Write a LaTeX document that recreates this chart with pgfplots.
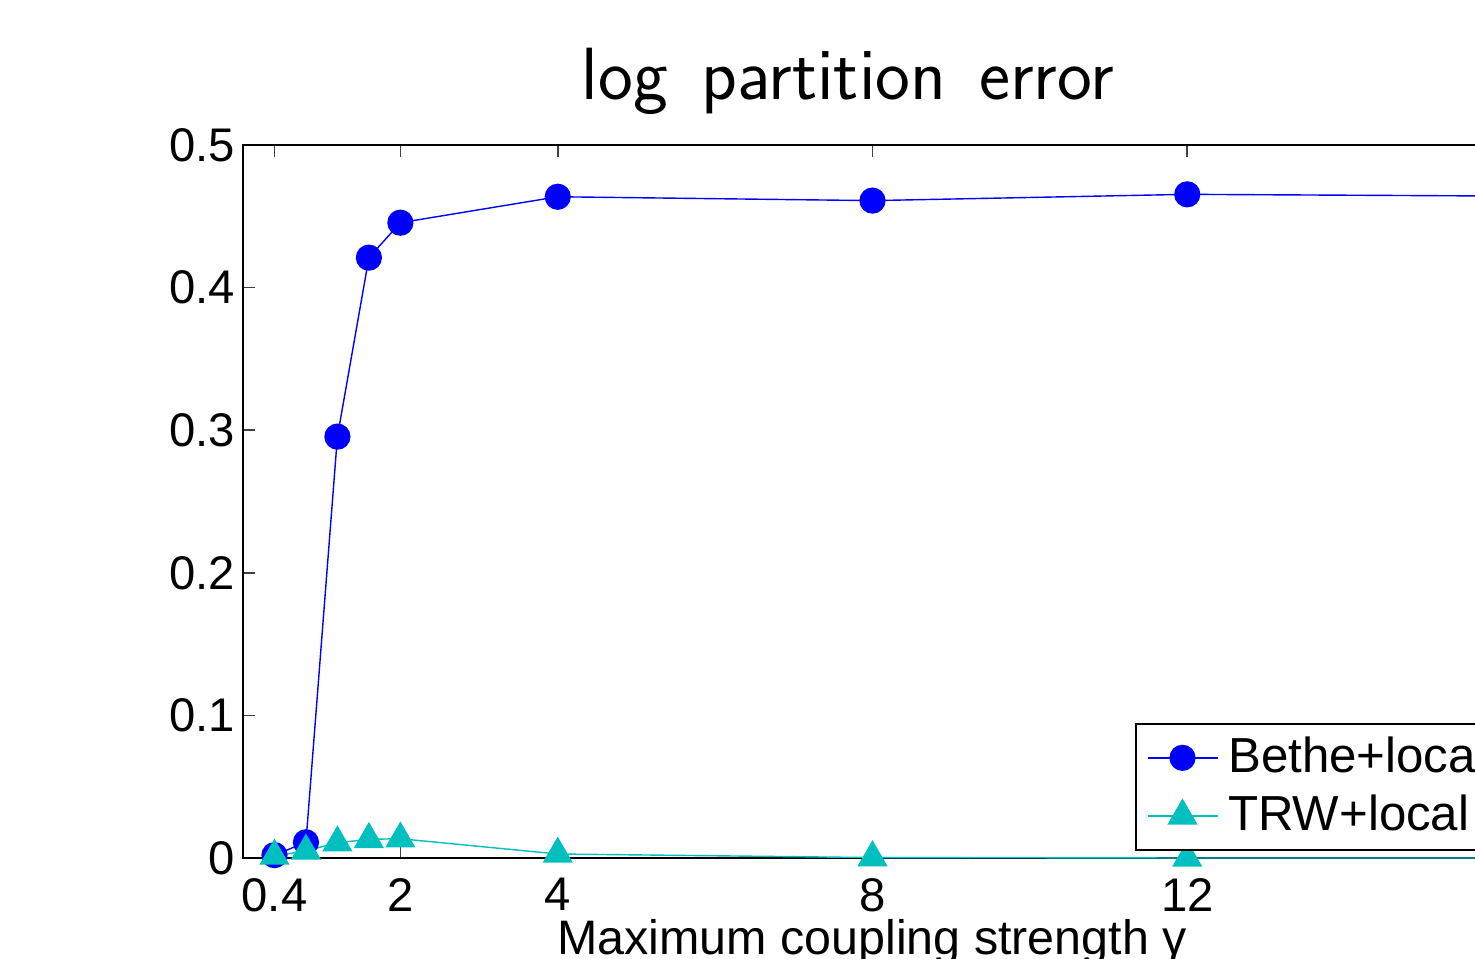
\documentclass[border=0pt]{standalone}
\usepackage{fontspec}
\setmainfont{Liberation Sans}
\usepackage{pgfplots}
\pgfplotsset{compat=1.18}
\definecolor{betheblue}{RGB}{0,0,255}
\definecolor{trwcyan}{RGB}{0,191,191}

\begin{document}
\begin{tikzpicture}
\clip (0pt,0pt) rectangle (368.75pt,239.75pt);
\begin{axis}[
  at={(60.75pt,25.25pt)}, anchor=south west,
  scale only axis, width=314.75pt, height=178.25pt,
  xmin=0, xmax=16, ymin=0, ymax=0.5,
  xtick={0.4,2,4,8,12,16},
  ytick={0,0.1,0.2,0.3,0.4,0.5},
  tick align=inside,
  major tick length=3pt,
  tick style={black!75, line width=0.4pt},
  axis line style={line width=0.5pt},
  ticklabel style={font=\fontsize{11.8}{13}\selectfont},
  /pgf/number format/assume math mode=true,
  /pgf/number format/fixed,
  xticklabel style={yshift=-1.6pt},
  yticklabel style={xshift=1.5pt},
  clip=false,
  legend style={at={(rel axis cs:0.7085,0.1893)}, anchor=north west,
    draw=black, line width=0.4pt, fill=white,
    inner xsep=2.75pt, inner ysep=1.25pt,
    font=\fontsize{12.3}{13}\selectfont, row sep=0pt,
    nodes={text height=8.5pt, text depth=1pt, inner ysep=2.5pt, inner xsep=1pt},
    /tikz/every odd column/.append style={column sep=1.5pt}},
  legend cell align=left,
  legend image code/.code={\draw[mark repeat=2,mark phase=2] plot coordinates {(0pt,0pt)(8.75pt,0pt)(17.5pt,0pt)};},
]
\addplot[color=betheblue, line width=0.35pt, mark=*, mark size=3.1pt,
  mark options={fill=betheblue, draw=betheblue}]
  coordinates {(0.4,0.002)(0.8,0.011)(1.2,0.2955)(1.6,0.421)(2,0.4455)
               (4,0.4637)(8,0.461)(12,0.4654)(16,0.4642)};
\addlegendentry{Bethe+local}
\addplot[color=trwcyan, line width=0.35pt, mark=triangle*, mark size=4pt,
  mark options={fill=trwcyan, draw=trwcyan}]
  coordinates {(0.4,0.0014)(0.8,0.005)(1.2,0.0107)(1.6,0.0131)(2,0.0135)
               (4,0.0028)(8,0.0003)(12,0)(16,0)};
\addlegendentry{TRW+local}
\end{axis}
\node[anchor=base, font=\sffamily\fontsize{18.5}{20}\selectfont] at (212pt,214.75pt)
  {log\hspace{2.5pt} partition\hspace{2.5pt} error};
\node[anchor=base, font=\fontsize{12.1}{13}\selectfont] at (218pt,1pt) {Maximum coupling strength γ};
\end{tikzpicture}
\end{document}
